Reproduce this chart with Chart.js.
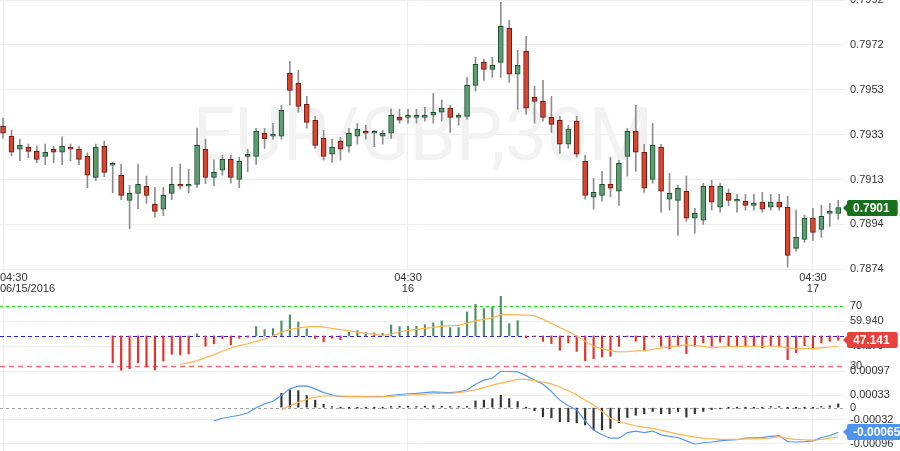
<!DOCTYPE html>
<html>
<head>
<meta charset="utf-8">
<script src="https://cdn.jsdelivr.net/npm/chart.js@4.4.0/dist/chart.umd.min.js"></script>
<style>
  html, body { margin: 0; padding: 0; background: #fff; }
  #wrap { position: relative; width: 900px; height: 451px; overflow: hidden; }
  #wrap canvas { position: absolute; left: 0; top: 0; }
</style>
</head>
<body>
<div id="wrap">
  <canvas id="priceChart" width="900" height="451"></canvas>
  <canvas id="rsiChart" width="900" height="451"></canvas>
  <canvas id="macdChart" width="900" height="451"></canvas>
</div>
<script>
// ---- values ----
var chartTitle = 'EUR/GBP,30M';
var tickIndex = [0, 48, 96];
var tickLabels = [['04:30', '06/15/2016'], ['04:30', '16'], ['04:30', '17']];

var openP = [
  0.79368, 0.79324, 0.79266, 0.79275, 0.79257, 0.79235, 0.79266, 0.79253, 0.79275, 0.79266,
  0.79235, 0.79143, 0.79279, 0.79196, 0.79152, 0.79042, 0.79073, 0.79104, 0.79025, 0.79003,
  0.79073, 0.79112, 0.79104, 0.79112, 0.79266, 0.79143, 0.79174, 0.79222, 0.79134, 0.79235,
  0.79235, 0.79336, 0.79323, 0.79323, 0.79599, 0.79555, 0.79463, 0.79393, 0.79314, 0.79244,
  0.79301, 0.79279, 0.79323, 0.79345, 0.79336, 0.79323, 0.79336, 0.79406, 0.79406, 0.79406,
  0.79406, 0.79415, 0.79428, 0.79446, 0.79406, 0.79410, 0.79546, 0.79647, 0.79616, 0.79647,
  0.79796, 0.79595, 0.79695, 0.79494, 0.79476, 0.79406, 0.79393, 0.79288, 0.79389, 0.79213,
  0.79056, 0.79064, 0.79112, 0.79082, 0.79235, 0.79345, 0.79253, 0.79134, 0.79275, 0.79047,
  0.79042, 0.79082, 0.78964, 0.78955, 0.79104, 0.79012, 0.79073, 0.79038, 0.79038, 0.79020,
  0.79034, 0.79012, 0.79034, 0.79012, 0.78832, 0.78871, 0.78964, 0.78915, 0.78985, 0.78985
];
var highP = [
  0.79403, 0.79350, 0.79311, 0.79289, 0.79280, 0.79289, 0.79279, 0.79320, 0.79289, 0.79279,
  0.79250, 0.79289, 0.79302, 0.79210, 0.79201, 0.79108, 0.79201, 0.79148, 0.79099, 0.79099,
  0.79187, 0.79201, 0.79178, 0.79359, 0.79311, 0.79219, 0.79241, 0.79241, 0.79231, 0.79266,
  0.79358, 0.79358, 0.79380, 0.79459, 0.79651, 0.79612, 0.79498, 0.79410, 0.79349, 0.79310,
  0.79318, 0.79358, 0.79380, 0.79371, 0.79349, 0.79349, 0.79442, 0.79442, 0.79441, 0.79441,
  0.79450, 0.79511, 0.79482, 0.79459, 0.79424, 0.79581, 0.79669, 0.79660, 0.79669, 0.79910,
  0.79831, 0.79700, 0.79761, 0.79542, 0.79568, 0.79498, 0.79410, 0.79371, 0.79410, 0.79240,
  0.79139, 0.79169, 0.79231, 0.79218, 0.79358, 0.79459, 0.79288, 0.79380, 0.79288, 0.79161,
  0.79108, 0.79148, 0.79007, 0.79117, 0.79130, 0.79117, 0.79091, 0.79069, 0.79069, 0.79069,
  0.79077, 0.79069, 0.79069, 0.79060, 0.78999, 0.78977, 0.79007, 0.79020, 0.79029, 0.79042
];
var lowP = [
  0.79315, 0.79238, 0.79216, 0.79229, 0.79207, 0.79198, 0.79207, 0.79198, 0.79216, 0.79198,
  0.79098, 0.79128, 0.79146, 0.79076, 0.79045, 0.78918, 0.79006, 0.79029, 0.78968, 0.78975,
  0.79045, 0.79091, 0.79076, 0.79099, 0.79115, 0.79106, 0.79153, 0.79117, 0.79098, 0.79168,
  0.79200, 0.79270, 0.79310, 0.79310, 0.79459, 0.79428, 0.79358, 0.79270, 0.79218, 0.79209,
  0.79218, 0.79253, 0.79288, 0.79310, 0.79277, 0.79288, 0.79314, 0.79380, 0.79380, 0.79380,
  0.79389, 0.79380, 0.79389, 0.79340, 0.79371, 0.79397, 0.79520, 0.79568, 0.79581, 0.79581,
  0.79559, 0.79441, 0.79419, 0.79380, 0.79389, 0.79340, 0.79248, 0.79270, 0.79231, 0.79047,
  0.79003, 0.79038, 0.79058, 0.79020, 0.79148, 0.79169, 0.79077, 0.79117, 0.78990, 0.78999,
  0.78889, 0.78950, 0.78898, 0.78937, 0.78999, 0.78990, 0.79020, 0.78990, 0.78999, 0.78999,
  0.78990, 0.78999, 0.78999, 0.78749, 0.78819, 0.78858, 0.78867, 0.78880, 0.78928, 0.78959
];
var closeP = [
  0.79336, 0.79253, 0.79283, 0.79257, 0.79222, 0.79253, 0.79253, 0.79279, 0.79266, 0.79222,
  0.79152, 0.79275, 0.79165, 0.79196, 0.79064, 0.79073, 0.79112, 0.79064, 0.78994, 0.79064,
  0.79112, 0.79104, 0.79108, 0.79283, 0.79143, 0.79165, 0.79222, 0.79143, 0.79213, 0.79235,
  0.79345, 0.79312, 0.79323, 0.79437, 0.79524, 0.79454, 0.79384, 0.79283, 0.79235, 0.79275,
  0.79266, 0.79336, 0.79354, 0.79336, 0.79336, 0.79336, 0.79415, 0.79393, 0.79406, 0.79406,
  0.79415, 0.79428, 0.79446, 0.79406, 0.79406, 0.79546, 0.79638, 0.79616, 0.79634, 0.79805,
  0.79595, 0.79634, 0.79446, 0.79476, 0.79406, 0.79375, 0.79288, 0.79354, 0.79244, 0.79064,
  0.79077, 0.79112, 0.79095, 0.79204, 0.79345, 0.79253, 0.79095, 0.79283, 0.79082, 0.79073,
  0.79095, 0.78964, 0.78985, 0.79104, 0.79034, 0.79104, 0.79042, 0.79038, 0.79020, 0.79029,
  0.79003, 0.79034, 0.79012, 0.78801, 0.78880, 0.78964, 0.78902, 0.78972, 0.78994, 0.79010
];
var priceTicks = [0.7874, 0.78937, 0.79133, 0.7933, 0.79527, 0.79723, 0.7992];

// RSI(14) and its moving average
var rsiStart = 13;
var rsi = [
  32.0, 27.1, 28.2, 32.0, 29.3, 27.3, 33.3, 37.7, 37.3, 38.0,
  51.3, 43.1, 44.7, 48.2, 44.0, 48.4, 49.1, 56.2, 54.2, 54.9,
  60.0, 64.0, 59.3, 54.7, 48.2, 46.0, 48.4, 47.5, 52.4, 53.5,
  52.2, 52.0, 51.7, 57.3, 56.2, 56.4, 56.4, 57.5, 58.7, 60.0,
  55.5, 55.5, 66.0, 71.1, 68.2, 69.3, 76.4, 58.2, 60.2, 48.7,
  49.5, 46.4, 44.9, 40.4, 45.3, 39.7, 33.5, 34.7, 36.0, 36.4,
  43.1, 49.5, 46.4, 40.2, 49.1, 43.1, 41.3, 43.1, 38.2, 43.1,
  45.3, 43.1, 45.8, 43.5, 43.5, 43.5, 43.5, 42.0, 43.5, 42.7,
  34.2, 38.7, 43.5, 41.3, 45.3, 46.4, 47.141
];
var rsiMaStart = 21;
var rsiMa = [
  31.1, 32.0, 33.5, 35.5, 37.5, 39.8, 42.0, 43.5, 44.8, 46.4,
  47.8, 50.0, 52.5, 54.2, 55.3, 56.0, 56.4, 55.8, 55.0, 54.2,
  53.3, 52.5, 51.7, 51.0, 50.4, 51.3, 52.8, 53.6, 54.3, 55.0,
  55.7, 56.4, 56.9, 57.0, 58.5, 60.0, 61.0, 62.0, 64.2, 64.2,
  64.0, 63.8, 63.5, 61.0, 58.3, 55.6, 53.1, 49.8, 46.5, 43.1,
  41.5, 40.0, 39.3, 39.5, 40.0, 40.2, 41.0, 41.8, 42.6, 43.3,
  44.0, 43.5, 43.0, 42.0, 42.6, 42.8, 43.0, 43.0, 43.1, 43.1,
  43.1, 43.1, 42.0, 41.3, 41.5, 41.5, 42.0, 42.6, 43.1
];
var rsiLevels = [70, 50, 30];
var rsiTicks = [70, 59.94, 43.27, 30];

// MACD, signal and histogram
var macdStart = 25;
var macd = [
  -0.00035, -0.00028, -0.00024, -0.00020, -0.00014, 0.00000, 0.00010, 0.00017, 0.00032, 0.00050,
  0.00057, 0.00058, 0.00050, 0.00040, 0.00034, 0.00029, 0.00029, 0.00029, 0.00029, 0.00029,
  0.00029, 0.00033, 0.00035, 0.00037, 0.00038, 0.00040, 0.00042, 0.00041, 0.00040, 0.00042,
  0.00047, 0.00062, 0.00073, 0.00078, 0.00097, 0.00096, 0.00095, 0.00085, 0.00073, 0.00062,
  0.00043, 0.00020, 0.00005, -0.00006, -0.00035, -0.00059, -0.00072, -0.00081, -0.00081, -0.00066,
  -0.00062, -0.00066, -0.00062, -0.00072, -0.00076, -0.00079, -0.00088, -0.00097, -0.00093, -0.00091,
  -0.00088, -0.00086, -0.00085, -0.00081, -0.00080, -0.00079, -0.00076, -0.00074, -0.00090, -0.00091,
  -0.00090, -0.00088, -0.00079, -0.00074, -0.00065
];
var signalStart = 33;
var signal = [
  -0.00006, 0.00005, 0.00014, 0.00022, 0.00028, 0.00031, 0.00031, 0.00031, 0.00030, 0.00030,
  0.00029, 0.00029, 0.00029, 0.00030, 0.00032, 0.00033, 0.00035, 0.00036, 0.00037, 0.00038,
  0.00038, 0.00040, 0.00043, 0.00048, 0.00053, 0.00060, 0.00065, 0.00070, 0.00075, 0.00075,
  0.00072, 0.00068, 0.00063, 0.00055, 0.00045, 0.00034, 0.00020, 0.00007, -0.00010, -0.00028,
  -0.00036, -0.00043, -0.00048, -0.00052, -0.00055, -0.00060, -0.00065, -0.00070, -0.00074, -0.00078,
  -0.00081, -0.00083, -0.00084, -0.00084, -0.00084, -0.00083, -0.00083, -0.00082, -0.00080, -0.00077,
  -0.00082, -0.00084, -0.00085, -0.00086, -0.00084, -0.00081, -0.00078
];
var histStart = 33;
var hist = [
  0.00038, 0.00047, 0.00045, 0.00032, 0.00020, 0.00009, 0.00003, -0.00002, -0.00001, -0.00001,
  0.00000, 0.00000, 0.00001, 0.00003, 0.00004, 0.00004, 0.00003, 0.00004, 0.00005, 0.00004,
  0.00003, 0.00003, 0.00003, 0.00018, 0.00020, 0.00024, 0.00033, 0.00024, 0.00016, 0.00001,
  -0.00008, -0.00024, -0.00027, -0.00037, -0.00037, -0.00040, -0.00046, -0.00059, -0.00059, -0.00055,
  -0.00040, -0.00026, -0.00020, -0.00016, -0.00010, -0.00016, -0.00016, -0.00010, -0.00025, -0.00016,
  -0.00010, -0.00005, -0.00003, -0.00002, -0.00001, 0.00001, 0.00002, 0.00002, 0.00003, 0.00003,
  -0.00002, -0.00001, 0.00001, 0.00002, 0.00003, 0.00005, 0.00010
];
var macdTicks = [0.00097, 0.00033, 0, -0.00032, -0.00096];

// ---- look ----
var FONT = "'Liberation Sans', Arial, sans-serif";
var AXIS_W = 55;
var GRID = '#eeeeee';
var upFill = '#5c9e72', upLine = '#1f4f2e', downFill = '#d9442f', downLine = '#6e1b12';

Chart.defaults.font.family = FONT;
Chart.defaults.color = '#333';

function xScale() {
  return {
    type: 'linear', min: -0.36, max: 99.8, offset: false,
    grid: { color: GRID, drawTicks: false, offset: false },
    border: { display: false },
    ticks: { display: false },
    afterBuildTicks: function (s) { s.ticks = tickIndex.map(function (v) { return { value: v }; }); },
    afterFit: function (s) { s.height = 0; s.paddingLeft = 0; s.paddingRight = 0; }
  };
}

function yScale(min, max, ticks, fmt, gridColor) {
  return {
    type: 'linear', position: 'right', min: min, max: max,
    grid: { color: gridColor || GRID, drawTicks: false },
    border: { display: false },
    ticks: { padding: 5, autoSkip: false, font: { size: 11 }, callback: fmt },
    afterBuildTicks: function (s) { s.ticks = ticks.map(function (v) { return { value: v }; }); },
    afterFit: function (s) { s.width = AXIS_W; s.paddingTop = 0; s.paddingBottom = 0; }
  };
}

function baseOptions(padTop, padBottom, yOpts) {
  return {
    responsive: false, animation: false, events: [],
    layout: { padding: { top: padTop, bottom: padBottom, left: 0, right: 0 } },
    plugins: { legend: { display: false }, tooltip: { enabled: false } },
    scales: { x: xScale(), y: yOpts }
  };
}

function series(arr, start) {
  return arr.map(function (v, k) { return { x: start + k, y: v }; });
}

// value tag on the right axis
function tagPlugin(value, text, color) {
  return {
    id: 'tag',
    afterDraw: function (chart) {
      var ctx = chart.ctx;
      var y = Math.round(chart.scales.y.getPixelForValue(value));
      var x0 = chart.chartArea.right + 2;
      ctx.save();
      ctx.font = 'bold 12px ' + FONT;
      var w = ctx.measureText(text).width + 14, h = 16;
      ctx.fillStyle = color;
      ctx.beginPath();
      ctx.moveTo(x0 - 4, y);
      ctx.lineTo(x0, y - 4);
      ctx.lineTo(x0, y - h / 2 + 2);
      ctx.quadraticCurveTo(x0, y - h / 2, x0 + 2, y - h / 2);
      ctx.lineTo(x0 + w - 2, y - h / 2);
      ctx.quadraticCurveTo(x0 + w, y - h / 2, x0 + w, y - h / 2 + 2);
      ctx.lineTo(x0 + w, y + h / 2 - 2);
      ctx.quadraticCurveTo(x0 + w, y + h / 2, x0 + w - 2, y + h / 2);
      ctx.lineTo(x0 + 2, y + h / 2);
      ctx.quadraticCurveTo(x0, y + h / 2, x0, y + h / 2 - 2);
      ctx.lineTo(x0, y + 4);
      ctx.closePath();
      ctx.fill();
      ctx.fillStyle = '#fff';
      ctx.textAlign = 'left';
      ctx.textBaseline = 'middle';
      ctx.fillText(text, x0 + 6, y + 1);
      ctx.restore();
    }
  };
}

// dashed horizontal levels
function levelPlugin(levels, styles) {
  return {
    id: 'levels',
    beforeDatasetsDraw: function (chart) {
      var ctx = chart.ctx, a = chart.chartArea;
      ctx.save();
      levels.forEach(function (v, k) {
        var y = Math.round(chart.scales.y.getPixelForValue(v)) + 0.5;
        ctx.strokeStyle = styles[k][0];
        ctx.lineWidth = styles[k][2] || 1;
        ctx.setLineDash(styles[k][1]);
        ctx.beginPath();
        ctx.moveTo(a.left, y);
        ctx.lineTo(a.right, y);
        ctx.stroke();
      });
      ctx.restore();
    }
  };
}

var watermark = {
  id: 'watermark',
  beforeDatasetsDraw: function (chart) {
    var ctx = chart.ctx;
    ctx.save();
    ctx.font = '74px Roboto, ' + FONT;
    ctx.fillStyle = '#f2f2f2';
    ctx.textAlign = 'center';
    ctx.textBaseline = 'alphabetic';
    ctx.fillText(chartTitle, 423, 160);
    ctx.restore();
  }
};

var timeLabels = {
  id: 'timeLabels',
  afterDraw: function (chart) {
    var ctx = chart.ctx, xs = chart.scales.x, bottom = chart.chartArea.bottom;
    ctx.save();
    ctx.font = '11px ' + FONT;
    ctx.fillStyle = '#333';
    ctx.textAlign = 'center';
    ctx.textBaseline = 'middle';
    tickIndex.forEach(function (v, k) {
      var px = xs.getPixelForValue(v);
      tickLabels[k].forEach(function (line, j) {
        var half = ctx.measureText(line).width / 2;
        ctx.fillText(line, Math.max(px, half), bottom + 9 + j * 10.5);
      });
    });
    ctx.restore();
  }
};

// ---- price panel (candles = wick bar + body bar) ----
var idx = closeP.map(function (c, i) { return i; });
var isUp = idx.map(function (i) { return closeP[i] >= openP[i]; });

new Chart(document.getElementById('priceChart'), {
  type: 'bar',
  data: {
    datasets: [
      {
        label: 'wick',
        data: idx.map(function (i) { return { x: i, y: [lowP[i], highP[i]] }; }),
        backgroundColor: '#8e8e8e',
        barThickness: 1,
        grouped: false,
        order: 2
      },
      {
        label: 'body',
        data: idx.map(function (i) { return { x: i, y: [openP[i], closeP[i]] }; }),
        backgroundColor: isUp.map(function (u) { return u ? upFill : downFill; }),
        borderColor: isUp.map(function (u) { return u ? upLine : downLine; }),
        borderWidth: 1,
        borderSkipped: false,
        barThickness: 5,
        minBarLength: 2,
        grouped: false,
        order: 1
      }
    ]
  },
  options: baseOptions(0, 181.7, yScale(0.7874, 0.7992, priceTicks, function (v) { return v.toFixed(4); })),
  plugins: [watermark, timeLabels, tagPlugin(closeP[99], closeP[99].toFixed(4), '#14701a')]
});

// ---- RSI panel ----
var rsiVals = series(rsi, rsiStart);
new Chart(document.getElementById('rsiChart'), {
  type: 'bar',
  data: {
    datasets: [
      {
        type: 'line',
        data: series(rsiMa, rsiMaStart),
        borderColor: '#ffb54f',
        borderWidth: 1.2,
        pointRadius: 0,
        order: 1
      },
      {
        data: rsiVals.map(function (p) { return { x: p.x, y: [50, p.y] }; }),
        backgroundColor: rsiVals.map(function (p) { return p.y >= 50 ? '#4f8f63' : '#e5312b'; }),
        barThickness: 1.5,
        grouped: false,
        order: 2
      }
    ]
  },
  options: baseOptions(296, 80, yScale(26.61, 76.61, rsiTicks, function (v) {
    return (v === 70 || v === 30) ? String(v) : v.toFixed(3);
  }, function (c) {
    return (c.tick && (c.tick.value === 70 || c.tick.value === 30)) ? 'rgba(0,0,0,0)' : GRID;
  })),
  plugins: [
    levelPlugin(rsiLevels, [['#22dd22', [3, 3]], ['#1f1fff', [4, 3]], ['#ff6a6a', [5, 4], 1.5]]),
    tagPlugin(rsi[rsi.length - 1], rsi[rsi.length - 1].toFixed(3), '#e8403a')
  ]
});

// ---- MACD panel ----
var lastMacd = macd[macd.length - 1];
new Chart(document.getElementById('macdChart'), {
  type: 'bar',
  data: {
    datasets: [
      {
        type: 'line',
        data: series(signal, signalStart),
        borderColor: '#ffb54f',
        borderWidth: 1.2,
        pointRadius: 0,
        order: 1
      },
      {
        type: 'line',
        data: series(macd, macdStart),
        borderColor: '#5798f0',
        borderWidth: 1.2,
        pointRadius: 0,
        order: 2
      },
      {
        data: series(hist, histStart).map(function (p) { return { x: p.x, y: [0, p.y] }; }),
        backgroundColor: '#333333',
        barThickness: 1.5,
        minBarLength: 1,
        grouped: false,
        order: 3
      }
    ]
  },
  options: baseOptions(371, 0, yScale(-0.001149, 0.000973, macdTicks, function (v) {
    return v === 0 ? '0' : v.toFixed(5);
  }, function (c) {
    return (c.tick && c.tick.value === 0) ? 'rgba(0,0,0,0)' : GRID;
  })),
  plugins: [
    levelPlugin([0], [['#a0a0a0', [3, 3]]]),
    tagPlugin(lastMacd, lastMacd.toFixed(5), '#4d93f0')
  ]
});
</script>
</body>
</html>
